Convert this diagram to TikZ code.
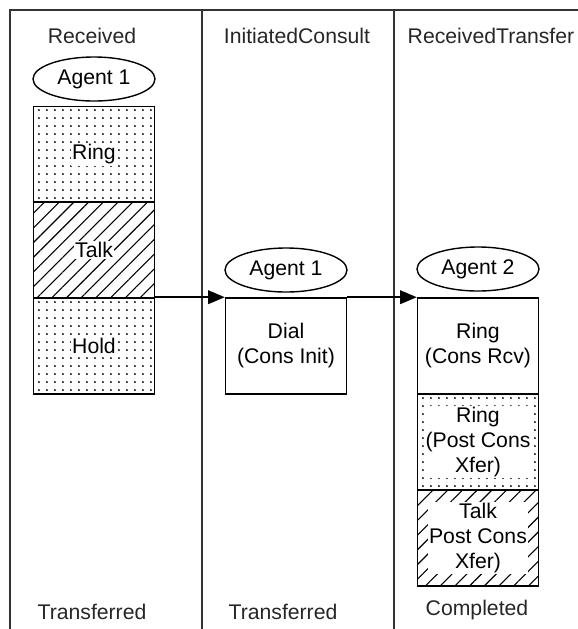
\documentclass[tikz,border=0pt]{standalone}
\usepackage{fontspec}
\setmainfont{Liberation Sans}
\usepackage{tikz}
\usetikzlibrary{arrows,shapes,patterns.meta}

\begin{document}
\begin{tikzpicture}
[x=0.5pt,y=-0.5pt,font=\fontsize{10.6}{12.5}\selectfont]
\tikzset{
	frame/.style = {line width=0.9pt, draw=black!80},
	agent/.style = {ellipse, draw, line width=0.7pt, inner sep=0, minimum width=61pt, minimum height=22pt},
	slot/.style = {rectangle, draw, line width=0.8pt, inner sep=0, minimum width=60.5pt, minimum height=48pt},
	dotted slot/.style = {slot, pattern={Dots[radius=0.5pt,distance=4pt]}},
	hatched slot/.style = {slot, pattern={Lines[angle=45,distance=5.2pt,line width=0.55pt]}},
	slot text/.style = {fill=white, inner sep=0.6pt, align=center},
	state/.style = {anchor=base, text=black!85}
}
\useasboundingbox (0,0) rectangle (578,629);

% lanes
\draw[frame] (10,629) -- (10,10) -- (578,10);
\draw[frame] (202,10) -- (202,629);
\draw[frame] (394,10) -- (394,629);

% column heads and tails
\node[state] (head1) at (92,43) {Received};
\node[state] (head2) at (297,43) {InitiatedConsult};
\node[state] (head3) at (491,43) {ReceivedTransfer};
\node[state] (tail1) at (92,619) {Transferred};
\node[state] (tail2) at (283,619) {Transferred};
\node[state] (tail3) at (477,615) {Completed};

% received
\node(agentA) [agent] at (94,79) {Agent 1};
\node(ring) [dotted slot] at (94,154.5) {};
\node(talk) [hatched slot] at (94,250) {};
\node(hold) [dotted slot] at (94,346) {};
\node[slot text] (ringT) at (ring) {Ring};
\node[slot text] (talkT) at (talk) {Talk};
\node[slot text] (holdT) at (hold) {Hold};

% initiated consult
\node(agentB) [agent] at (286,270) {Agent 1};
\node(dial) [slot, align=center] at (286,346) {Dial\\(Cons Init)};

% received transfer
\node(agentC) [agent] at (478,269) {Agent 2};
\node(rcv) [slot, align=center] at (478,346) {Ring\\(Cons Rcv)};
\node(xring) [dotted slot] at (478,442) {};
\node(xtalk) [hatched slot] at (478,538) {};
\node[slot text] (xringT) at (xring) {Ring\\(Post Cons\\Xfer)};
\node[slot text] (xtalkT) at (xtalk) {Talk\\Post Cons\\Xfer)};

\path[-triangle 45, line width=0.9pt]
	(hold.north east) edge (dial.north west)
	(dial.north east) edge (rcv.north west)
	;

\end{tikzpicture}
\end{document}
